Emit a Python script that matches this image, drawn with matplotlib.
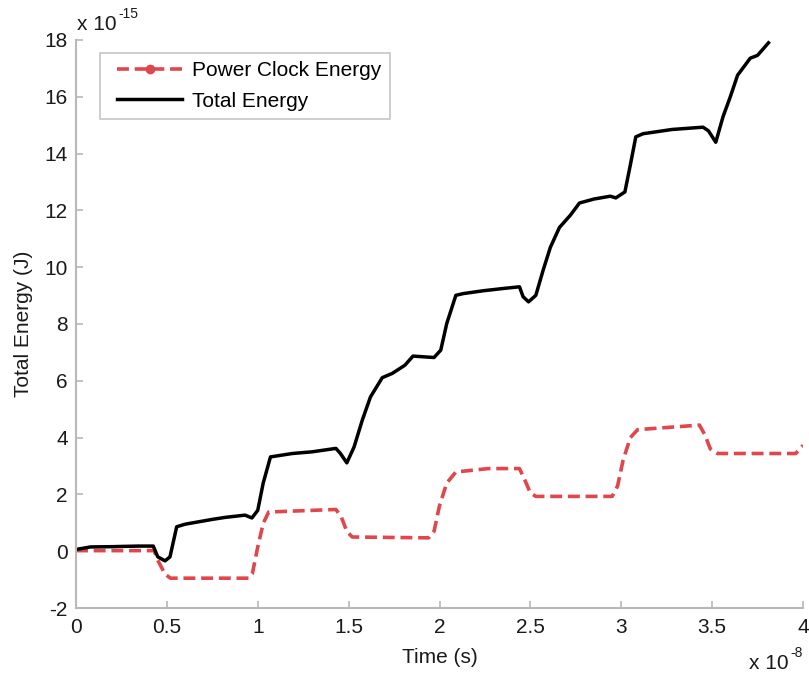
import matplotlib
matplotlib.use("Agg")
import matplotlib.pyplot as plt
from matplotlib.lines import Line2D
from matplotlib.legend_handler import HandlerLine2D

# Time in units of 1e-8 s, energy in units of 1e-15 J
t_total = [0, 0.08, 0.2, 0.34, 0.425, 0.45, 0.49, 0.517, 0.554, 0.6, 0.67, 0.75,
           0.82, 0.93, 0.968, 1.0, 1.03, 1.07, 1.19, 1.3, 1.43, 1.455, 1.49, 1.53,
           1.575, 1.62, 1.685, 1.74, 1.81, 1.854, 1.97, 2.007, 2.04, 2.09, 2.13,
           2.24, 2.35, 2.44, 2.46, 2.49, 2.53, 2.57, 2.61, 2.66, 2.72, 2.77, 2.85,
           2.94, 2.97, 3.02, 3.05, 3.08, 3.12, 3.28, 3.45, 3.48, 3.52, 3.56, 3.6,
           3.64, 3.71, 3.75, 3.81]
e_total = [0.06, 0.15, 0.16, 0.18, 0.18, -0.2, -0.34, -0.2, 0.86, 0.95, 1.03, 1.12,
           1.19, 1.27, 1.17, 1.44, 2.4, 3.32, 3.44, 3.5, 3.62, 3.44, 3.11, 3.67,
           4.61, 5.43, 6.11, 6.26, 6.55, 6.87, 6.82, 7.08, 8.02, 9.01, 9.07,
           9.17, 9.25, 9.31, 8.96, 8.78, 9.01, 9.89, 10.7, 11.4, 11.83, 12.26, 12.4,
           12.5, 12.44, 12.65, 13.6, 14.59, 14.7, 14.85, 14.93, 14.8, 14.4, 15.3, 16.0,
           16.76, 17.36, 17.46, 17.9]

t_pc = [0, 0.43, 0.45, 0.49, 0.52, 0.95, 0.97, 1.0, 1.03, 1.06, 1.43, 1.46, 1.49,
        1.52, 1.94, 1.97, 2.0, 2.04, 2.09, 2.27, 2.44, 2.47, 2.5, 2.53, 2.95, 2.98,
        3.01, 3.05, 3.09, 3.43, 3.46, 3.49, 3.53, 3.96, 4.0]
e_pc = [0.02, 0.02, -0.32, -0.81, -0.95, -0.95, -0.8, 0.15, 0.98, 1.38, 1.47, 1.2,
        0.7, 0.5, 0.47, 0.7, 1.6, 2.4, 2.79, 2.91, 2.91, 2.5, 2.05, 1.93, 1.93, 2.3,
        3.2, 4.0, 4.28, 4.44, 4.1, 3.6, 3.44, 3.44, 3.73]

x_ticks = [0, 0.5, 1, 1.5, 2, 2.5, 3, 3.5, 4]
x_ticklabels = ["0", "0.5", "1", "1.5", "2", "2.5", "3", "3.5", "4"]
y_ticks = [-2, 0, 2, 4, 6, 8, 10, 12, 14, 16, 18]
y_ticklabels = ["-2", "0", "2", "4", "6", "8", "10", "12", "14", "16", "18"]

red = "#e0474c"
grey = "#b8b8b8"
txt = "#1a1a1a"
fs = 15
plt.rcParams["font.family"] = ["Liberation Sans", "DejaVu Sans"]
plt.rcParams["axes.unicode_minus"] = False

W, H = 809, 674
fig = plt.figure(figsize=(W / 100, H / 100), dpi=100)
ax = fig.add_axes([76 / W, 1 - 608 / H, (803 - 76) / W, (608 - 40) / H])

ax.plot(t_pc, e_pc, color=red, lw=2.6, dashes=(3.3, 1.6), solid_capstyle="butt")
ax.plot(t_total, e_total, color="black", lw=2.5, solid_joinstyle="round")

ax.set_xlim(0, 4)
ax.set_ylim(-2, 18)
ax.set_xticks(x_ticks)
ax.set_xticklabels(x_ticklabels)
ax.set_yticks(y_ticks)
ax.set_yticklabels(y_ticklabels)
for s in ["top", "right"]:
    ax.spines[s].set_visible(False)
for s in ["left", "bottom"]:
    ax.spines[s].set_color(grey)
    ax.spines[s].set_linewidth(1.5)
ax.tick_params(direction="in", length=5, width=1.2, color=grey,
               labelsize=fs, labelcolor=txt)
ax.tick_params(axis="x", pad=7)
ax.tick_params(axis="y", pad=6)

ax.set_xlabel("Time (s)", fontsize=fs, color=txt, labelpad=8)
ax.set_ylabel("Total Energy (J)", fontsize=fs, color=txt, labelpad=8)

t1 = fig.text(77 / W, 1 - 30 / H, "x 10", fontsize=fs, color=txt,
              ha="left", va="baseline")
ax.annotate("-15", xy=(1, 1), xycoords=t1, xytext=(1, 1), textcoords="offset points",
            fontsize=10, color=txt, ha="left", va="center")
t2 = fig.text(789 / W, 1 - 669 / H, "x 10", fontsize=fs, color=txt,
              ha="right", va="baseline")
ax.annotate("-8", xy=(1, 1), xycoords=t2, xytext=(1, 1), textcoords="offset points",
            fontsize=10, color=txt, ha="left", va="center")

handles = [
    Line2D([], [], color=red, lw=2.6, dashes=(3.3, 1.6), marker="o",
           markersize=6, markerfacecolor=red, markeredgecolor=red),
    Line2D([], [], color="black", lw=2.5),
]
leg = ax.legend(handles, ["Power Clock Energy", "Total Energy"],
                loc="upper left", bbox_to_anchor=((100 - 76) / 727, 1 - (53 - 40) / 568),
                borderaxespad=0, fontsize=fs, handlelength=3.55, handletextpad=0.48,
                borderpad=0.4, labelspacing=0.54, fancybox=False, frameon=True,
                numpoints=1,
                handler_map={Line2D: HandlerLine2D(xpad=0.42)})
leg.get_frame().set_edgecolor(grey)
leg.get_frame().set_linewidth(1.2)

fig.savefig("out.png", dpi=100)
